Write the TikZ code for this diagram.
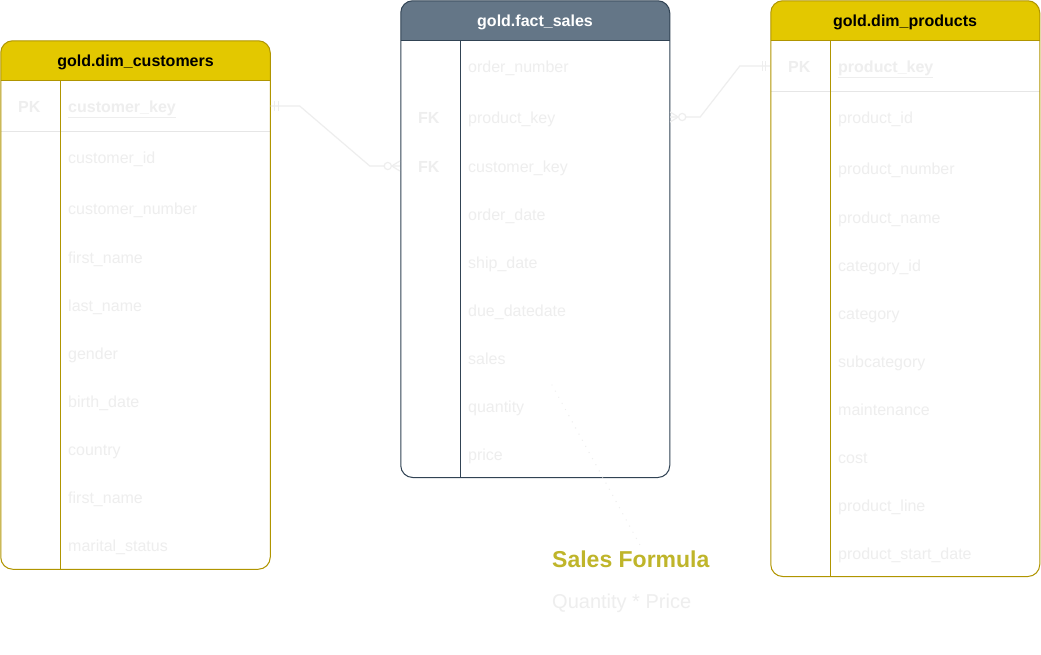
\documentclass[tikz,border=0pt]{standalone}
\usepackage{fontspec}
\setmainfont{Liberation Sans}
\usetikzlibrary{calc}
\definecolor{fg}{HTML}{EEEEEE}
\definecolor{yel}{HTML}{E3C800}
\definecolor{ystk}{HTML}{B09500}
\definecolor{slate}{HTML}{647687}
\definecolor{sstk}{HTML}{314354}
\definecolor{sepc}{HTML}{E6E6E6}
\definecolor{formula}{HTML}{BFB52A}
\tikzset{
  fld/.style={anchor=base west, inner sep=0pt, text=fg, font=\fontsize{16}{18}\selectfont},
  keyf/.style={fld, font=\fontsize{16}{18}\selectfont\bfseries},
  hdr/.style={anchor=base, inner sep=0pt, font=\fontsize{16}{18}\selectfont\bfseries},
  rowbox/.style={draw=none, inner sep=0pt, minimum height=1pt},
  conn/.style={draw=fg, line width=1.2pt},
  ystroke/.style={draw=ystk, line width=1pt},
  sstroke/.style={draw=sstk, line width=1pt},
}
\begin{document}
\begin{tikzpicture}[x=1pt,y=-1pt]
\useasboundingbox (0,0) rectangle (1041,654);
\fill[white] (0,0) rectangle (1041,654);

% ---------------- customers ----------------
\fill[white, rounded corners=12] (0.75,40.75) rectangle (270.25,569.25);
\begin{scope}
\clip (0,40) rectangle (271,80);
\fill[yel, rounded corners=12] (0.75,40.75) rectangle (270.25,569.25);
\end{scope}
\draw[sepc, line width=1pt] (0.75,131) -- (270.25,131);
\draw[ystroke] (0.75,80) -- (270.25,80);
\draw[ystroke] (60,80) -- (60,569.25);
\draw[ystroke, rounded corners=12] (0.75,40.75) rectangle (270.25,569.25);
\node[hdr] (custT) at (135.5,66) {gold.dim\_customers};
\node[keyf] (cPK) at (18,112) {PK};
\node[keyf] (c1) at (68,112) {\underline{customer\_key}};
\node[fld] (c2) at (68,163) {customer\_id};
\node[fld] (c3) at (68,214) {customer\_number};
\node[fld] (c4) at (68,263) {first\_name};
\node[fld] (c5) at (68,311) {last\_name};
\node[fld] (c6) at (68,359) {gender};
\node[fld] (c7) at (68,407) {birth\_date};
\node[fld] (c8) at (68,455) {country};
\node[fld] (c9) at (68,503) {first\_name};
\node[fld] (c10) at (68,551) {marital\_status};
\node[rowbox, minimum width=270pt] (cr1) at (135.5,106) {};

% ---------------- fact sales ----------------
\fill[white, rounded corners=12] (400.75,0.75) rectangle (669.75,477.5);
\begin{scope}
\clip (400,0) rectangle (671,40);
\fill[slate, rounded corners=12] (400.75,0.75) rectangle (669.75,477.5);
\end{scope}
\draw[sstroke] (400.75,40) -- (669.75,40);
\draw[sstroke] (460,40) -- (460,477.5);
\draw[sstroke, rounded corners=12] (400.75,0.75) rectangle (669.75,477.5);
\node[hdr, text=white] (factT) at (535,26) {gold.fact\_sales};
\node[fld] (f1) at (468,72) {order\_number};
\node[keyf] (fFK1) at (418,123) {FK};
\node[fld] (f2) at (468,123) {product\_key};
\node[keyf] (fFK2) at (418,172) {FK};
\node[fld] (f3) at (468,172) {customer\_key};
\node[fld] (f4) at (468,220) {order\_date};
\node[fld] (f5) at (468,268) {ship\_date};
\node[fld] (f6) at (468,316) {due\_datedate};
\node[fld] (f7) at (468,364) {sales};
\node[fld] (f8) at (468,412) {quantity};
\node[fld] (f9) at (468,460) {price};
\node[rowbox, minimum width=270pt] (fr2) at (535,117) {};
\node[rowbox, minimum width=270pt] (fr3) at (535,166) {};

% ---------------- products ----------------
\fill[white, rounded corners=12] (770.75,0.75) rectangle (1039.75,576.5);
\begin{scope}
\clip (770,0) rectangle (1041,40);
\fill[yel, rounded corners=12] (770.75,0.75) rectangle (1039.75,576.5);
\end{scope}
\draw[sepc, line width=1pt] (770.75,91) -- (1039.75,91);
\draw[ystroke] (770.75,40) -- (1039.75,40);
\draw[ystroke] (830,40) -- (830,576.5);
\draw[ystroke, rounded corners=12] (770.75,0.75) rectangle (1039.75,576.5);
\node[hdr] (prodT) at (905,26) {gold.dim\_products};
\node[keyf] (pPK) at (788,72) {PK};
\node[keyf] (p1) at (838,72) {\underline{product\_key}};
\node[fld] (p2) at (838,123) {product\_id};
\node[fld] (p3) at (838,174) {product\_number};
\node[fld] (p4) at (838,223) {product\_name};
\node[fld] (p5) at (838,271) {category\_id};
\node[fld] (p6) at (838,319) {category};
\node[fld] (p7) at (838,367) {subcategory};
\node[fld] (p8) at (838,415) {maintenance};
\node[fld] (p9) at (838,463) {cost};
\node[fld] (p10) at (838,511) {product\_line};
\node[fld] (p11) at (838,559) {product\_start\_date};
\node[rowbox, minimum width=270pt] (pr1) at (905,66) {};

% ---------------- connectors ----------------
% customers.customer_key -> fact_sales.customer_key
\draw[conn] (cr1.east) -- ++(29,0) -- ($(fr3.west)+(-30,0)$) -- (fr3.west);
\draw[conn] ($(cr1.east)+(4,-5)$) -- ++(0,10);
\draw[conn] ($(cr1.east)+(8,-5)$) -- ++(0,10);
\draw[conn] ($(fr3.west)+(-8,0)$) -- ($(fr3.west)+(0,-5)$);
\draw[conn] ($(fr3.west)+(-8,0)$) -- ($(fr3.west)+(0,5)$);
\draw[conn, fill=white] ($(fr3.west)+(-12,0)$) circle (3.6);
% fact_sales.product_key -> products.product_key
\draw[conn] (fr2.east) -- ++(30,0) -- ($(pr1.west)+(-30,0)$) -- (pr1.west);
\draw[conn] ($(fr2.east)+(8,0)$) -- ($(fr2.east)+(0,-5)$);
\draw[conn] ($(fr2.east)+(8,0)$) -- ($(fr2.east)+(0,5)$);
\draw[conn, fill=white] ($(fr2.east)+(12,0)$) circle (3.6);
\draw[conn] ($(pr1.west)+(-7,-5)$) -- ++(0,10);
\draw[conn] ($(pr1.west)+(-4,-5)$) -- ++(0,10);

% ---------------- formula note ----------------
\node[anchor=base west, inner sep=0pt, text=formula, font=\fontsize{23}{25}\selectfont\bfseries] (formulaT) at (552,567) {Sales Formula};
\node[anchor=base west, inner sep=0pt, text=fg, font=\fontsize{20}{22}\selectfont] (formulaB) at (552,608) {Quantity * Price};
\coordinate (dotStart) at (552,385);
\draw[draw=fg, line width=1.4pt, line cap=round, dash pattern=on 0pt off 7pt] (dotStart) -- ($(formulaT.base west)+(88,-22)$);
\end{tikzpicture}
\end{document}
